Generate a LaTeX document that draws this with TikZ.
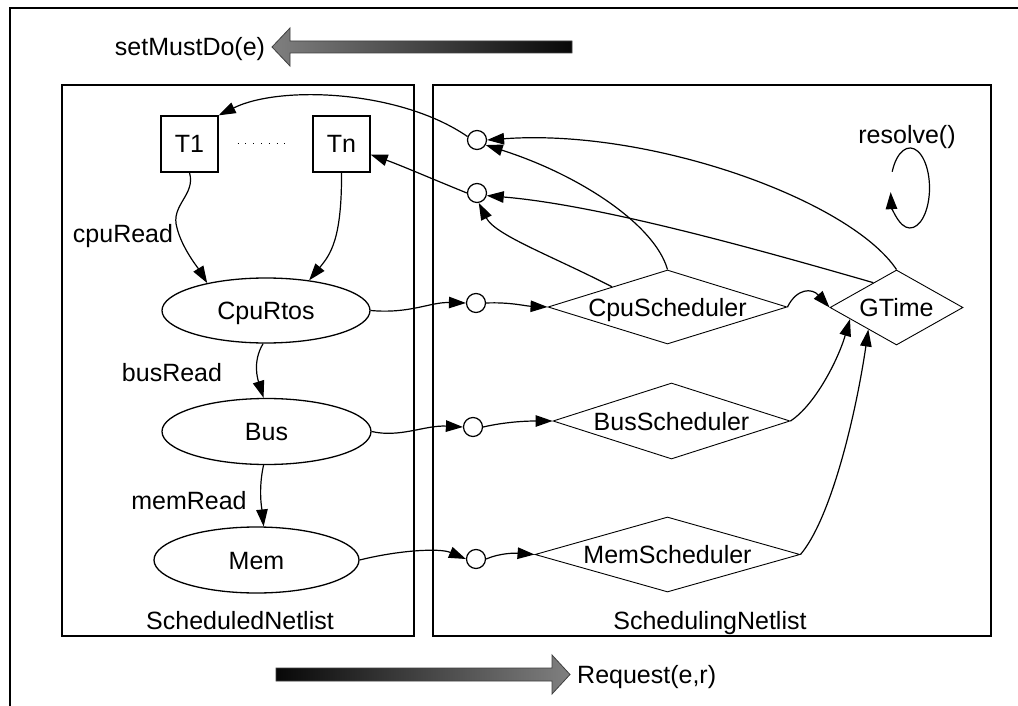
\documentclass[tikz,border=0pt]{standalone}
\usepackage{fontspec}
\setmainfont{Liberation Sans}
\usetikzlibrary{shapes.geometric,arrows.meta}

\begin{document}
\begin{tikzpicture}[x=1pt,y=-1pt,
  font=\fontsize{25pt}{30pt}\selectfont,
  txt/.style={inner sep=0pt, text height=18pt, text depth=0pt},
  panel/.style={draw, line width=1.5pt},
  taskbox/.style={draw, line width=1.3pt, rectangle, minimum width=57pt, minimum height=56pt, inner sep=0pt, text height=18pt, text depth=0pt},
  procnode/.style={draw, line width=1.3pt, ellipse, inner sep=0pt, text height=18pt, text depth=0pt},
  schednode/.style={draw, line width=0.9pt, diamond, inner sep=0pt},
  portnode/.style={draw, line width=1.2pt, circle, minimum size=19pt, inner sep=0pt},
  flowarrow/.style={line width=1.2pt, -{Triangle[length=17pt,width=11.5pt]}},
  bannerarrow/.style={draw=black!75, line width=0.8pt},
]
\useasboundingbox (0,0) rectangle (1018,706);
\fill[white] (0,0) rectangle (1018,706);

% outer frame (open towards right and bottom)
\draw[line width=1.6pt] (10,706) -- (10,8) -- (1018,8);

% shaded direction banners
\path[bannerarrow, left color=black!50, right color=black!97]
  (572,41) -- (290,41) -- (290,28) -- (272,47) -- (290,66) -- (290,53) -- (572,53) -- cycle;
\node[txt] (must) at (190,47) {setMustDo(e)};

\path[bannerarrow, left color=black!97, right color=black!50]
  (276,668) -- (552,668) -- (552,655) -- (570,674.5) -- (552,694) -- (552,681) -- (276,681) -- cycle;
\node[txt, anchor=west] (req) at (577,674) {Request(e,r)};

% the two netlists
\draw[panel] (62,85) rectangle (414,636);
\draw[panel] (433,85) rectangle (991,636);
\node[txt] (schedd) at (240,620) {ScheduledNetlist};
\node[txt] (schedg) at (710,620) {SchedulingNetlist};

% scheduled netlist
\node[taskbox] (t1) at (189.5,144) {T1};
\node[taskbox] (tn) at (341.5,144) {Tn};
\draw[line width=1pt, dash pattern=on 1pt off 6.8pt] ([xshift=19pt]t1.east) -- ([xshift=-21pt]tn.west);

\node[procnode, minimum width=208pt, minimum height=65pt] (cr) at (266,310.5) {CpuRtos};
\node[procnode, minimum width=209pt, minimum height=66pt] (bus) at (266.5,431.5) {Bus};
\node[procnode, minimum width=205pt, minimum height=66pt] (mem) at (256.5,560) {Mem};

\node[txt] (cpuread) at (123,233) {cpuRead};
\node[txt] (busread) at (172,372) {busRead};
\node[txt] (memread) at (189,500) {memRead};

\draw[flowarrow] (t1.south) .. controls (196,195) and (170,205) .. (177,228)
  .. controls (182,248) and (198,268) .. (cr.155);
\draw[flowarrow] (tn.south) .. controls (342,240) and (330,255) .. (cr.35);
\draw[flowarrow] (cr.-95) .. controls (252,362) and (258,380) .. (bus.95);
\draw[flowarrow] (bus.-95) .. controls (258,490) and (262,510) .. (mem.78);

% scheduling netlist: ports
\node[portnode] (p1) at (477,140) {};
\node[portnode] (p2) at (477,193) {};
\node[portnode] (p3) at (476,303) {};
\node[portnode] (p4) at (473,427) {};
\node[portnode] (p5) at (476,559) {};

% schedulers
\node[schednode, minimum width=239pt, minimum height=74pt] (cs) at (667.5,307) {};
\node[txt] (cst) at (cs.center) {CpuScheduler};
\node[schednode, minimum width=237pt, minimum height=76pt] (bs) at (671.5,421) {};
\node[txt] (bst) at (bs.center) {BusScheduler};
\node[schednode, minimum width=265pt, minimum height=75pt] (ms) at (667.5,554.5) {};
\node[txt] (mst) at (ms.center) {MemScheduler};
\node[schednode, minimum width=133pt, minimum height=75pt] (gt) at (896.5,307.5) {};
\node[txt] (gtt) at (gt.center) {GTime};

% requests flowing into the schedulers
\draw[flowarrow] (cr.east) .. controls (410,314) and (430,302) .. (p3.west);
\draw[flowarrow] (p3.east) .. controls (510,302) and (525,306) .. (cs.west);
\draw[flowarrow] (bus.east) .. controls (400,438) and (425,425) .. (p4.west);
\draw[flowarrow] (p4.east) .. controls (505,422) and (525,421) .. (bs.west);
\draw[flowarrow] (mem.east) .. controls (400,550) and (440,548) .. (p5.west);
\draw[flowarrow] (p5.east) .. controls (500,553) and (515,553) .. (ms.west);

% schedulers report to the global time
\draw[flowarrow] (cs.east) .. controls (797,288) and (812,288) .. (gt.west);
\draw[flowarrow] (bs.east) .. controls (815,405) and (838,360) .. (gt.194);
\draw[flowarrow] (ms.east) .. controls (830,520) and (855,420) .. (gt.218);

% decisions sent back
\draw[flowarrow] (gt.north) .. controls (850,200) and (650,128) .. (p1.east);
\draw[flowarrow] (cs.north) .. controls (655,225) and (580,175) .. (p1.-30);
\draw[flowarrow] (gt.133) .. controls (760,250) and (600,205) .. (p2.-15);
\draw[flowarrow] (cs.160) .. controls (550,255) and (495,235) .. (p2.-80);

% ports to tasks
\draw[flowarrow] (p1.160) .. controls (400,90) and (280,85) .. (t1.north east);
\draw[flowarrow] (p2.west) .. controls (430,178) and (400,165) .. (tn.-20);

% resolve loop
\node[txt] (res) at (907,135) {resolve()};
\draw[flowarrow] (892.2,171.7) arc[start angle=156, end angle=-174, x radius=19.5pt, y radius=40pt];

\end{tikzpicture}
\end{document}
